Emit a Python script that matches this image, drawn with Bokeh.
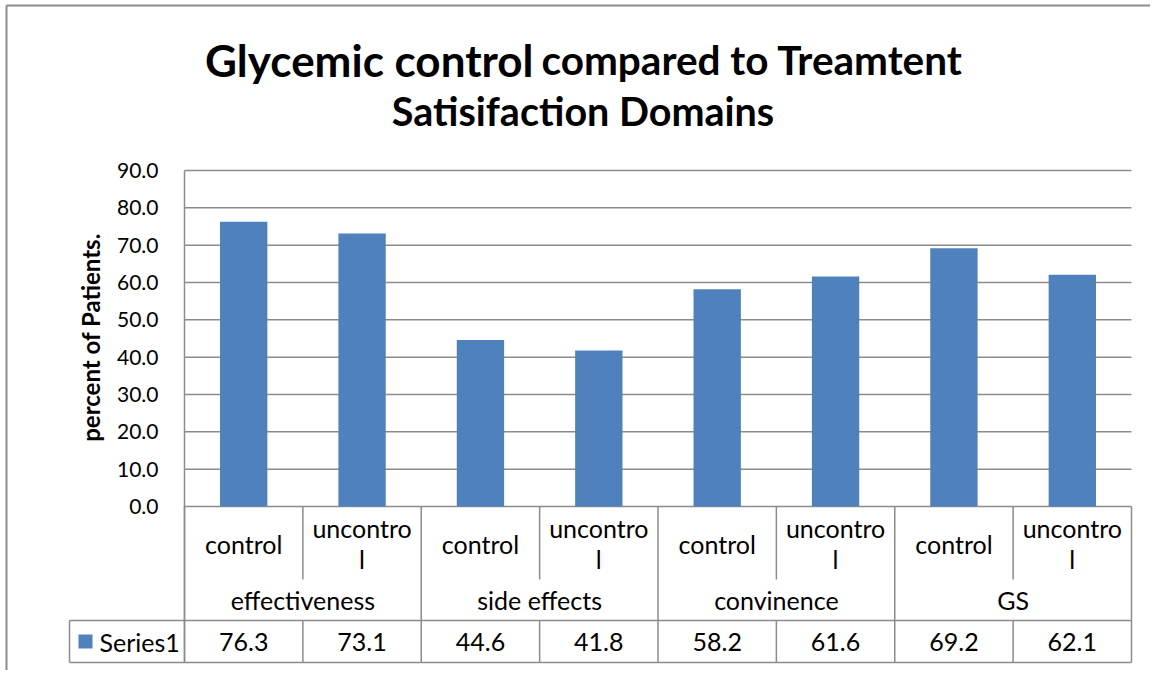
import math
from bokeh.plotting import figure
from bokeh.models import Range1d, ColumnDataSource
from bokeh.core.properties import value
from bokeh.embed import file_html
from bokeh.resources import INLINE

# ---------------- data ----------------
title_main = "Glycemic control"
title_rest = "compared to Treamtent"
title_line2 = "Satisifaction Domains"
y_label = "percent of Patients."
series_name = "Series1"
groups = ["effectiveness", "side effects", "convinence", "GS"]
subs = ["control", "uncontrol"]
values = [76.3, 73.1, 44.6, 41.8, 58.2, 61.6, 69.2, 62.1]
y_ticks = [0, 10, 20, 30, 40, 50, 60, 70, 80, 90]

FONT = value("Lato")
BAR = "#4f81bd"
GRID = "#8c8c8c"
W, H = 1150, 670

n = len(groups) * len(subs)
y_max = y_ticks[-1]

# layout geometry (page pixels) -> data coordinates
PL, PR, PT, PB = 184, 1131, 170, 506          # plot area edges
SX = (PR - PL) / n                             # px per category
SY = (PB - PT) / y_max                         # px per y unit


def X(px):
    return (px - PL) / SX


def Y(py):
    return (PB - py) / SY


p = figure(width=W, height=H, x_range=Range1d(X(0), X(W)), y_range=Range1d(Y(H), Y(0)),
           output_backend="svg", toolbar_location=None, min_border=0,
           x_axis_location=None, y_axis_location=None, outline_line_color=None)
p.grid.visible = False

# outer chart border (top and left)
p.segment(x0=[X(6), X(6)], y0=[Y(5), Y(5)], x1=[X(W), X(6)], y1=[Y(5), Y(H)],
          line_color=GRID, line_width=2)

# ---------------- title ----------------
p.text(x=[X(533)], y=[Y(59)], text=[title_main], text_font=FONT, text_font_style="bold",
       text_font_size="44px", text_align="right", text_baseline="alphabetic", text_color="black")
p.text(x=[X(541)], y=[Y(59)], text=[title_rest], text_font=FONT, text_font_style="bold",
       text_font_size="40.5px", text_align="left", text_baseline="alphabetic", text_color="black")
p.text(x=[X(582.5)], y=[Y(110)], text=[title_line2], text_font=FONT, text_font_style="bold",
       text_font_size="39.5px", text_align="center", text_baseline="alphabetic", text_color="black")

# ---------------- grid, axis, bars ----------------
p.segment(x0=[0] * len(y_ticks), y0=y_ticks, x1=[n] * len(y_ticks), y1=y_ticks,
          line_color=GRID, line_width=1.5)
xs = [i + 0.5 for i in range(n)]
p.vbar(x=xs, top=values, bottom=0, width=0.4, color=BAR, line_color=None)

# y tick labels and axis title
p.text(x=[X(158)] * len(y_ticks), y=y_ticks, text=["%.1f" % v for v in y_ticks],
       text_font=FONT, text_font_size="21px", text_align="right", text_baseline="middle",
       text_color="black")
p.text(x=[X(90)], y=[Y(337)], text=[y_label], angle=math.pi / 2, text_font=FONT,
       text_font_style="bold", text_font_size="24px", text_align="center",
       text_baseline="middle", text_color="black")

# ---------------- data table ----------------
R1, R2, R3 = Y(579), Y(620), Y(662)   # row boundaries
LEG = X(69)
# horizontal lines
p.segment(x0=[LEG, LEG], y0=[R2, R3], x1=[n, n], y1=[R2, R3], line_color=GRID, line_width=1.5)
# axis line + group boundaries (full height)
gb = [i * len(subs) for i in range(len(groups) + 1)]
p.segment(x0=[0], y0=[y_max], x1=[0], y1=[R3], line_color=GRID, line_width=1.5)
p.segment(x0=gb, y0=[0] * len(gb), x1=gb, y1=[R3] * len(gb), line_color=GRID, line_width=1.5)
# sub boundaries
sb = [i for i in range(1, n) if i % len(subs) != 0]
p.segment(x0=sb, y0=[0] * len(sb), x1=sb, y1=[R1] * len(sb), line_color=GRID, line_width=1.5)
p.segment(x0=sb, y0=[R2] * len(sb), x1=sb, y1=[R3] * len(sb), line_color=GRID, line_width=1.5)
# legend cell left border
p.segment(x0=[LEG], y0=[R2], x1=[LEG], y1=[R3], line_color=GRID, line_width=1.5)

# sub-category labels (wrapped at 8 chars like the reference)
LINE = 31 / SY
lx, ly, lt = [], [], []
for gi, g in enumerate(groups):
    for si, s in enumerate(subs):
        parts = [s[k:k + 8] for k in range(0, len(s), 8)]
        m = len(parts)
        for k, part in enumerate(parts):
            lx.append(gi * len(subs) + si + 0.5)
            ly.append(Y(543) - (k - (m - 1) / 2) * LINE)
            lt.append(part)
p.text(x=lx, y=ly, text=lt, text_font=FONT, text_font_size="25px", text_align="center",
       text_baseline="middle", text_color="black")
# group labels
gx = [gi * len(subs) + len(subs) / 2 for gi in range(len(groups))]
p.text(x=gx, y=[(R1 + R2) / 2] * len(groups), text=groups, text_font=FONT,
       text_font_size="25px", text_align="center", text_baseline="middle", text_color="black")
# values row
src = ColumnDataSource(dict(x=xs, y=[(R2 + R3) / 2] * n, t=["%.1f" % v for v in values]))
p.text(x="x", y="y", text="t", source=src, text_font=FONT, text_font_size="25px",
       text_align="center", text_baseline="middle", text_color="black")
# legend key
p.scatter(x=[X(85)], y=[(R2 + R3) / 2], marker="square", size=14, fill_color=BAR, line_color=None)
p.text(x=[X(99)], y=[(R2 + R3) / 2], text=[series_name], text_font=FONT,
       text_font_size="25px", text_align="left", text_baseline="middle", text_color="black")

open("out.html", "w").write(file_html(p, INLINE))
